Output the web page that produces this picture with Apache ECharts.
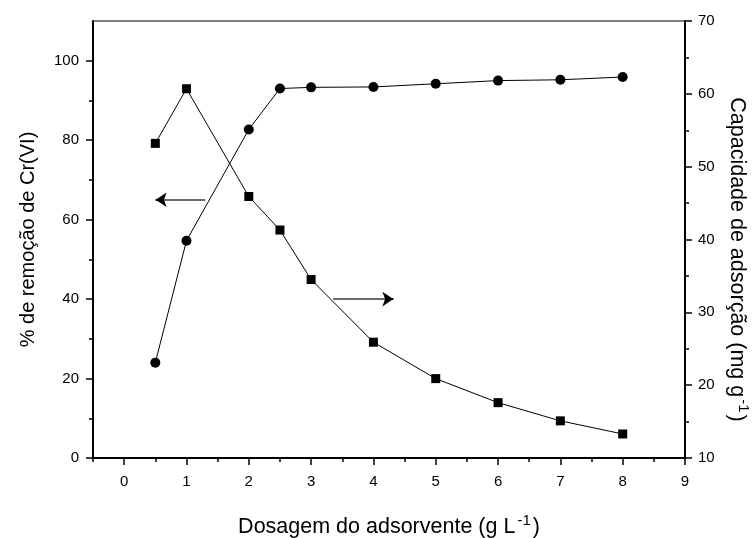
<!DOCTYPE html>
<html>
<head>
<meta charset="utf-8">
<script src="https://cdn.jsdelivr.net/npm/echarts@6/dist/echarts.min.js"></script>
<style>
  html, body { margin: 0; padding: 0; background: #fff; }
  #chart { width: 752px; height: 538px; }
</style>
</head>
<body>
<div id="chart"></div>
<script>
// Adsorbent dose (g/L)
const dose = [0.5, 1, 2, 2.5, 3, 4, 5, 6, 7, 8];
// Cr(VI) removal (%), left axis
const removalPct = [24.0, 54.7, 82.7, 93.0, 93.3, 93.4, 94.2, 95.0, 95.2, 95.9];
// Adsorption capacity (mg/g), right axis
const capacity = [53.2, 60.7, 45.9, 41.3, 34.5, 25.9, 20.9, 17.6, 15.1, 13.3];

// Tick positions
const xTicks = [0, 1, 2, 3, 4, 5, 6, 7, 8, 9];
const xMinorTicks = [-0.5, 0.5, 1.5, 2.5, 3.5, 4.5, 5.5, 6.5, 7.5, 8.5];
const leftTicks = [0, 20, 40, 60, 80, 100];
const leftMinorTicks = [10, 30, 50, 70, 90];
const rightTicks = [10, 20, 30, 40, 50, 60, 70];
const rightMinorTicks = [15, 25, 35, 45, 55, 65];

// Arrow annotations pointing each curve to its axis: [x0, y0, x1, y1] in left-axis units
const arrowToLeft = [1.30, 65, 0.505, 65];
const arrowToRight = [3.355, 40, 4.32, 40];

const FONT = '"Liberation Sans", Arial, sans-serif';
const BLACK = '#000';

function pairs(xs, ys) { return xs.map((x, i) => [x, ys[i]]); }

function arrowLines(a) {
  // grey shaft plus a short black piece carrying the head
  const dir = Math.sign(a[2] - a[0]);
  return [
    [{ coord: [a[0], a[1]], symbol: 'none', lineStyle: { color: '#6a6a6a', width: 2, type: 'solid' } },
     { coord: [a[2] - dir * 0.1, a[3]], symbol: 'none' }],
    [{ coord: [a[2] - dir * 0.12, a[1]], symbol: 'none', lineStyle: { color: BLACK, width: 2, type: 'solid' } },
     { coord: [a[2], a[3]], symbol: 'arrow' }]
  ];
}

const titleRich = {
  t: { fontSize: 21.5, lineHeight: 28, color: BLACK, fontFamily: FONT },
  s: { fontSize: 15, lineHeight: 15, verticalAlign: 'top', color: BLACK, fontFamily: FONT, padding: [0, 2, 0, 2] }
};

const majorTick = (vals, len) => ({ show: true, customValues: vals, length: len, inside: false,
  lineStyle: { color: BLACK, width: 1.5 } });

const chart = echarts.init(document.getElementById('chart'), null, { renderer: 'canvas' });

chart.setOption({
  animation: false,
  backgroundColor: '#fff',
  grid: {
    left: 93, right: 67, top: 21, bottom: 80,
    containLabel: false, outerBoundsMode: 'none',
    show: true, borderColor: BLACK, borderWidth: 1, backgroundColor: 'transparent'
  },
  xAxis: [
    {
      type: 'value', min: -0.5, max: 9, position: 'bottom',
      axisLine: { show: true, onZero: false, lineStyle: { color: BLACK, width: 2 } },
      axisTick: majorTick(xTicks, 7),
      axisLabel: { customValues: xTicks, color: BLACK, fontSize: 15, fontFamily: FONT, margin: 16 },
      splitLine: { show: false },
      name: '{t|Dosagem do adsorvente (g L}{s|-1}{t|)}',
      nameLocation: 'middle', nameGap: 55,
      nameTextStyle: { rich: titleRich }
    },
    {
      type: 'value', min: -0.5, max: 9, position: 'bottom',
      axisLine: { show: false, onZero: false },
      axisTick: majorTick(xMinorTicks, 4),
      axisLabel: { show: false },
      splitLine: { show: false }
    }
  ],
  yAxis: [
    {
      type: 'value', min: 0, max: 110, position: 'left',
      axisLine: { show: true, onZero: false, lineStyle: { color: BLACK, width: 2 } },
      axisTick: majorTick(leftTicks, 7),
      axisLabel: { customValues: leftTicks, color: BLACK, fontSize: 15, fontFamily: FONT, margin: 14 },
      splitLine: { show: false },
      name: '% de remoção de Cr(VI)',
      nameLocation: 'middle', nameGap: 55, nameRotate: 90,
      nameTextStyle: { color: BLACK, fontSize: 20, fontFamily: FONT }
    },
    {
      type: 'value', min: 10, max: 70, position: 'right',
      axisLine: { show: true, onZero: false, lineStyle: { color: BLACK, width: 2 } },
      axisTick: majorTick(rightTicks, 7),
      axisLabel: { customValues: rightTicks, color: BLACK, fontSize: 15, fontFamily: FONT, margin: 13 },
      splitLine: { show: false },
      name: '{t|Capacidade de adsorção (mg g}{s|-1}{t|)}',
      nameLocation: 'middle', nameGap: 31, nameRotate: -90,
      nameTextStyle: { rich: titleRich, padding: [0, 0, 0, 40] }
    },
    {
      type: 'value', min: 0, max: 110, position: 'left',
      axisLine: { show: false, onZero: false },
      axisTick: majorTick(leftMinorTicks, 4),
      axisLabel: { show: false },
      splitLine: { show: false }
    },
    {
      type: 'value', min: 10, max: 70, position: 'right',
      axisLine: { show: false, onZero: false },
      axisTick: majorTick(rightMinorTicks, 4),
      axisLabel: { show: false },
      splitLine: { show: false }
    }
  ],
  series: [
    {
      name: 'Remoção',
      type: 'line', xAxisIndex: 0, yAxisIndex: 0,
      data: pairs(dose, removalPct),
      symbol: 'circle', symbolSize: 10,
      lineStyle: { color: BLACK, width: 1 },
      itemStyle: { color: BLACK },
      emphasis: { disabled: true },
      markLine: {
        silent: true, animation: false,
        symbol: ['none', 'arrow'], symbolSize: 11,
        lineStyle: { type: 'solid', width: 2 },
        label: { show: false },
        emphasis: { disabled: true },
        data: arrowLines(arrowToLeft).concat(arrowLines(arrowToRight))
      }
    },
    {
      name: 'Capacidade',
      type: 'line', xAxisIndex: 0, yAxisIndex: 1,
      data: pairs(dose, capacity),
      symbol: 'rect', symbolSize: 9,
      lineStyle: { color: BLACK, width: 1 },
      itemStyle: { color: BLACK },
      emphasis: { disabled: true }
    }
  ]
});
</script>
</body>
</html>
